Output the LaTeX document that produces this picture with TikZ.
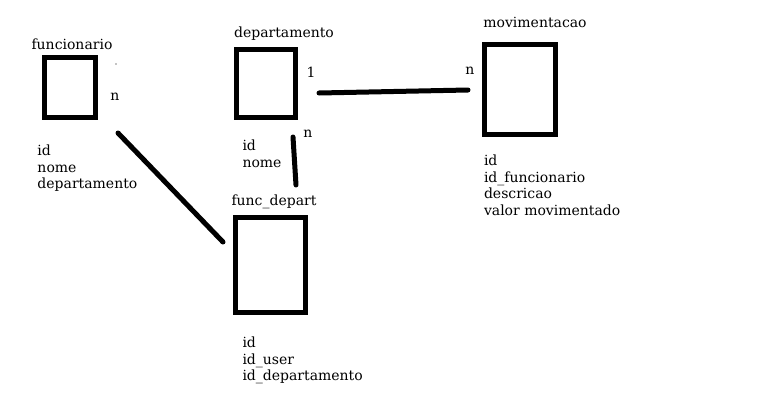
\documentclass[tikz,border=0pt]{standalone}
\usepackage{fontspec}
\setmainfont{DejaVu Serif}
\usetikzlibrary{positioning, calc}
\tikzset{
  every picture/.style={line width=5pt},
  entity/.style={draw=black, line width=5pt, inner sep=0pt, minimum width=#1},
  title/.style={font=\fontsize{14}{16.5}\selectfont, anchor=base, inner sep=0pt},
  attrs/.style={font=\fontsize{14}{16.5}\selectfont, align=left, anchor=north west, inner sep=0pt},
  card/.style={font=\fontsize{14}{16.5}\selectfont, inner sep=0pt},
  link/.style={draw=black, line width=5pt, line cap=round},
}

\begin{document}
\begin{tikzpicture}[x=1pt, y=-1pt]
  \useasboundingbox (0,0) rectangle (777,413);
  % tables
  \node[entity=51pt, minimum height=60pt] (fun) at (70,87.5) {};
  \node[entity=59pt, minimum height=68pt] (dep) at (266,83.5) {};
  \node[entity=71pt, minimum height=90pt] (mov) at (520,89.5) {};
  \node[entity=70pt, minimum height=95pt] (fd) at (270.5,265) {};
  \node[title] (funT) at (72,49) {funcionario};
  \node[title] (depT) at (284,37) {departamento};
  \node[title] (movT) at (535,27) {movimentacao};
  \node[title] (fdT) at (274,205) {func\_depart};
  % columns
  \node[attrs] (funA) at (35,142.4) {id\\nome\\departamento};
  \node[attrs] (depA) at (240,137.7) {id\\nome};
  \node[attrs] (movA) at (481.5,152.7) {id\\id\_funcionario\\descricao\\valor movimentado};
  \node[attrs] (fdA) at (240,334.4) {id\\id\_user\\id\_departamento};
  % cardinalities
  \node[card] (funN) at (115,97) {n};
  \node[card] (dep1) at (311,72) {1};
  \node[card] (depN) at (308,134) {n};
  \node[card] (movN) at (470,71) {n};
  \fill (116,64) circle (0.7pt);
  % relations
  \coordinate (a1) at (118,133);
  \coordinate (a2) at (223,242);
  \coordinate (b1) at (293,137);
  \coordinate (b2) at (296,185);
  \coordinate (c1) at (319,93);
  \coordinate (c2) at (468,90);
  \draw[link] (a1) -- (a2);
  \draw[link] (b1) -- (b2);
  \draw[link] (c1) -- (c2);
\end{tikzpicture}
\end{document}
